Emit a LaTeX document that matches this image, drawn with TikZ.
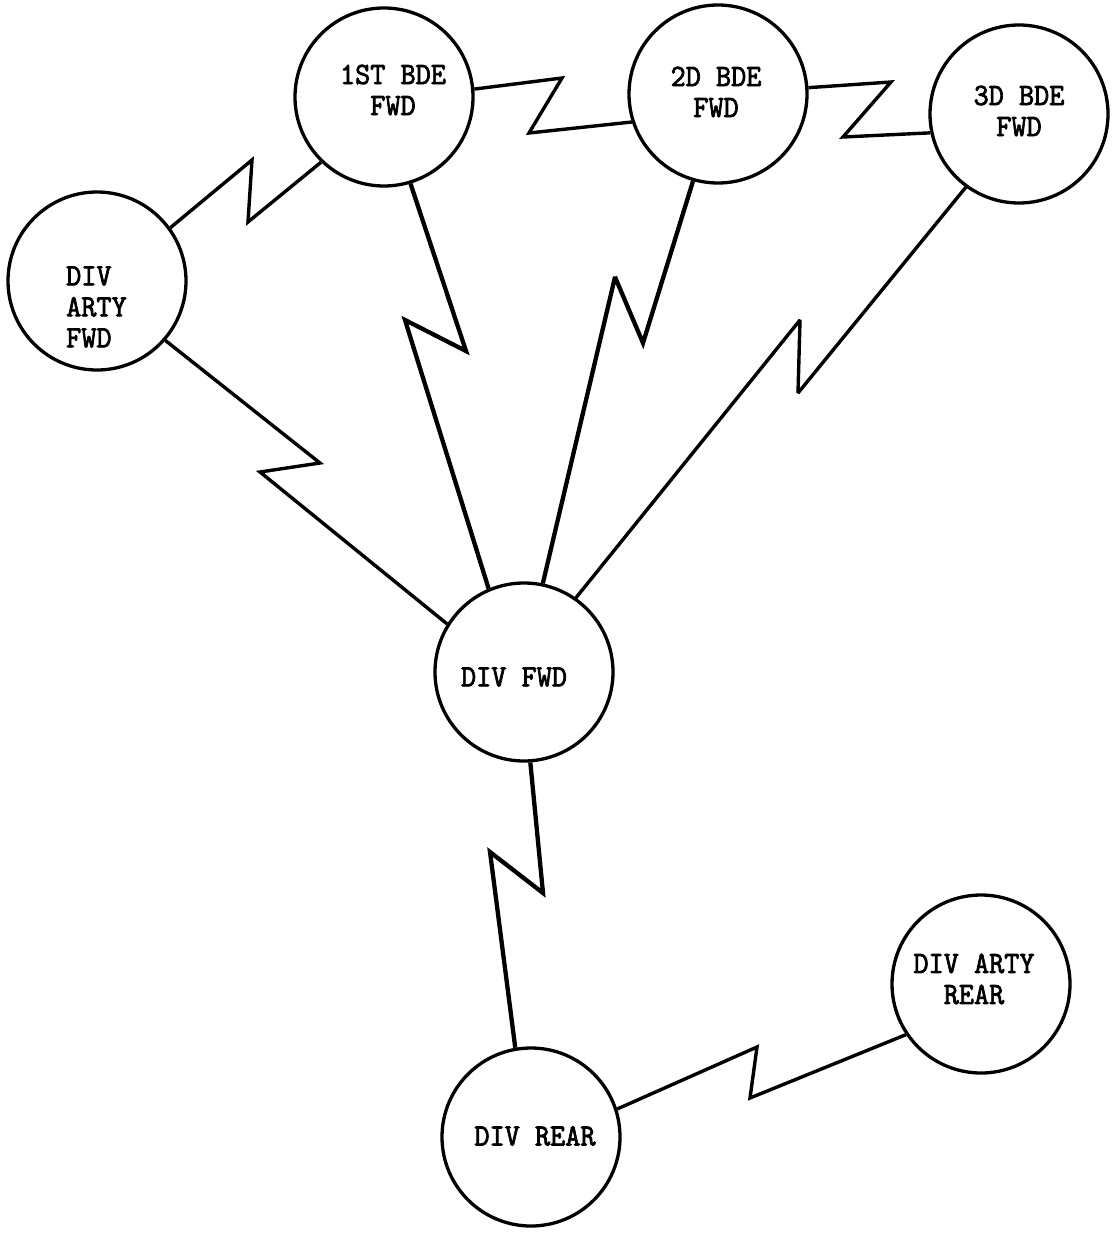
\documentclass[tikz,border=0pt]{standalone}
\usepackage{fontspec}
\newfontfamily\typefont[Extension=.otf,FakeBold=2.2,FakeStretch=0.93]{lmmono10-regular}
\begin{document}
\begin{tikzpicture}[x=1pt,y=-1pt,
  unit/.style={draw,circle,minimum size=178pt,inner sep=0pt,line width=3.3pt},
  lbl/.style={font=\typefont\fontsize{31}{31}\selectfont,align=center,inner sep=0pt},
  link/.style={line width=3.4pt,line join=miter,miter limit=3},
  heavylink/.style={link,line width=4.3pt}]
\fill[white] (0,0) rectangle (1113,1236);
\useasboundingbox (0,0) rectangle (1113,1236);
% circles
\node[unit] (bde1) at (384,97) {};
\node[unit] (bde2) at (718,94) {};
\node[unit] (bde3) at (1019,114) {};
\node[unit] (artyfwd) at (97,281) {};
\node[unit] (divfwd) at (524,672) {};
\node[unit] (divrear) at (531,1137) {};
\node[unit] (artyrear) at (981,984) {};
% labels
\node[lbl] (t1) at (393,90) {1ST BDE\\FWD};
\node[lbl] (t2) at (716,92) {2D BDE\\FWD};
\node[lbl] (t3) at (1019,111) {3D BDE\\FWD};
\node[lbl,align=left,anchor=west] (t4) at (66,307) {DIV\\ARTY\\FWD};
\node[lbl] (t5) at (514,677) {DIV FWD};
\node[lbl] (t6) at (974,979) {DIV ARTY\\REAR};
\node[lbl] (t7) at (535,1136) {DIV REAR};
% zigzag vertices
\coordinate (a1) at (252,160); \coordinate (a2) at (248,222);
\coordinate (b1) at (320,463); \coordinate (b2) at (260,472);
\coordinate (c1) at (466,351); \coordinate (c2) at (405,320);
\coordinate (d1) at (643,343); \coordinate (d2) at (615,277);
\coordinate (e1) at (798,393); \coordinate (e2) at (800,320);
\coordinate (f1) at (562,78);  \coordinate (f2) at (529,133);
\coordinate (g1) at (891,82);  \coordinate (g2) at (843,137);
\coordinate (h1) at (543,893); \coordinate (h2) at (490,852);
\coordinate (k1) at (757,1047); \coordinate (k2) at (750,1098);
% connectors
\draw[link] (artyfwd.36) -- (a1) -- (a2) -- (bde1.226);
\draw[link] (artyfwd.319) -- (b1) -- (b2) -- (divfwd.148);
\draw[heavylink] (bde1.287) -- (c1) -- (c2) -- (divfwd.113);
\draw[heavylink] (bde2.254) -- (d1) -- (d2) -- (divfwd.78);
\draw[link] (bde3.234) -- (e1) -- (e2) -- (divfwd.55);
\draw[link] (bde1.5) -- (f1) -- (f2) -- (bde2.198);
\draw[link] (bde2.4) -- (g1) -- (g2) -- (bde3.192);
\draw[heavylink] (divfwd.274) -- (h1) -- (h2) -- (divrear.100);
\draw[link] (divrear.18) -- (k1) -- (k2) -- (artyrear.214);
\end{tikzpicture}
\end{document}
